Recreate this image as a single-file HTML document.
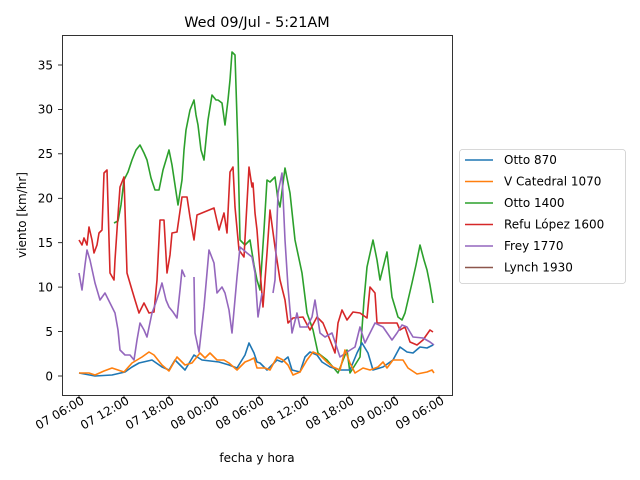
<!DOCTYPE html>
<html><head><meta charset="utf-8"><style>body{margin:0;background:#fff}svg{display:block}text{font-family:"DejaVu Sans","Liberation Sans",sans-serif;fill:#000}</style></head><body>
<svg width="640" height="480" viewBox="0 0 640 480" xmlns="http://www.w3.org/2000/svg">
<rect width="640" height="480" fill="#fff"/>
<text x="257" y="27" font-size="14.4" text-anchor="middle">Wed 09/Jul - 5:21AM</text>
<g fill="none" stroke-width="1.6" stroke-linejoin="round">
<polyline stroke="#2ca02c" points="114,223 118,221 121,205 124,180 128,172 132,160 136,150 140,145 144,153 147,160 151,178 155,190 159,190 163,170 166,160 169,150 172,165 175,185 178,205 182,180 184,150 186,130 190,110 194,100 196,115 198,125 201,150 204,160 206,140 208,120 212,95 216,100 218,100 222,103 225,125 228,100 230,80 232,52 235,55 238,150 240,240 245,245 250,240 254,265 257,280 260,290 264,230 267,180 270,182 275,177 278,200 280,207 285,168 290,193 295,240 302,273 307,313 313,330 318,353 327,360 338,373 347,350 350,373 355,365 360,357 364,300 367,267 373,240 377,260 380,280 387,252 392,297 398,317 402,320 405,313 412,283 416,265 420,245 424,260 427,270 430,285 433,303"/>
<polyline stroke="#d62728" points="79,240 82,245 84,238 87,245 89,227 92,240 94,253 97,245 99,233 102,230 104,173 107,170 110,273 114,280 115,260 118,215 120,187 124,177 127,273 132,290 135,300 139,313 144,303 149,313 154,312 157,280 160,220 164,220 167,273 170,255 172,233 177,232 182,197 187,197 190,217 194,240 197,215 214,208 219,230 224,213 227,233 230,172 233,167 235,207 239,250 244,257 249,167 252,187 253,183 255,213 257,230 260,270 263,307 267,253 270,210 275,247 280,280 285,300 288,323 293,318 303,317 310,330 317,317 323,323 330,340 335,353 338,323 342,310 347,320 353,312 360,313 367,318 370,287 375,293 377,323 397,323 400,330 405,327 410,342 417,345 423,340 430,330 433,332"/>
<polyline stroke="#9467bd" points="79,273 82,290 85,265 87,250 90,260 95,283 100,300 105,293 110,303 115,313 118,330 120,350 125,355 130,355 134,360 137,340 140,323 144,330 147,337 152,313 155,305 159,293 162,283 166,300 169,307 173,312 177,318 180,290 182,270 185,277"/>
<polyline stroke="#9467bd" points="194,277 195,333 199,352 204,307 209,250 214,263 217,293 222,287 225,293 229,310 232,333 237,277 240,247 247,253 252,257 255,273 258,317 262,293"/>
<polyline stroke="#9467bd" points="273,293 275,280 278,193 282,173 285,240 288,287 292,333 297,313 300,327 307,327 312,317 315,300 320,333 325,337 332,333 340,357 347,352 355,347 360,327 365,343 370,333 375,323 383,327 392,340 397,333 402,325 407,327 413,337 423,338 430,342 434,345"/>
<polyline stroke="#1f77b4" points="79,373 95,376 112,375 125,372 132,367 139,363 152,360 162,367 169,370 175,360 180,365 185,370 194,355 202,360 219,362 229,365 237,368 245,355 249,343 254,353 257,362 260,363 267,370 277,360 282,362 288,357 292,370 300,372 305,357 310,352 317,355 322,362 330,367 340,370 350,370 357,353 362,343 368,353 373,370 383,367 393,360 400,347 407,352 413,353 420,347 427,348 433,345"/>
<polyline stroke="#ff7f0e" points="79,373 89,373 95,375 104,371 112,368 118,370 124,372 132,363 142,357 149,352 154,355 162,365 169,371 177,357 185,365 192,363 200,353 205,358 210,353 217,360 224,360 229,363 237,370 245,362 250,360 254,358 257,368 265,368 270,370 277,357 283,360 288,365 293,375 300,372 307,360 313,352 320,355 327,362 333,367 340,370 345,350 350,363 355,373 363,368 370,370 378,367 383,362 387,368 393,360 403,360 408,368 417,374 427,372 432,370 434,373"/>
</g>
<rect x="62.5" y="35.5" width="390" height="360" fill="none" stroke="#000" stroke-width="0.8"/>
<g stroke="#000" stroke-width="0.8">
<line x1="62" y1="376" x2="58" y2="376"/><line x1="62" y1="331.6" x2="58" y2="331.6"/><line x1="62" y1="287.1" x2="58" y2="287.1"/><line x1="62" y1="242.7" x2="58" y2="242.7"/><line x1="62" y1="198.3" x2="58" y2="198.3"/><line x1="62" y1="153.8" x2="58" y2="153.8"/><line x1="62" y1="109.4" x2="58" y2="109.4"/><line x1="62" y1="65" x2="58" y2="65"/>
<line x1="79" y1="395" x2="79" y2="399"/><line x1="124" y1="395" x2="124" y2="399"/><line x1="169" y1="395" x2="169" y2="399"/><line x1="214" y1="395" x2="214" y2="399"/><line x1="259" y1="395" x2="259" y2="399"/><line x1="304" y1="395" x2="304" y2="399"/><line x1="349" y1="395" x2="349" y2="399"/><line x1="394" y1="395" x2="394" y2="399"/><line x1="439" y1="395" x2="439" y2="399"/>
</g>
<g font-size="12" text-anchor="end">
<text x="53" y="380.5">0</text><text x="53" y="336">5</text><text x="53" y="291.5">10</text><text x="53" y="247">15</text><text x="53" y="202.5">20</text><text x="53" y="158">25</text><text x="53" y="113.5">30</text><text x="53" y="69.5">35</text>
</g>
<g font-size="12" text-anchor="end">
<text transform="translate(85,403) rotate(-30)">07 06:00</text>
<text transform="translate(130,403) rotate(-30)">07 12:00</text>
<text transform="translate(175,403) rotate(-30)">07 18:00</text>
<text transform="translate(220,403) rotate(-30)">08 00:00</text>
<text transform="translate(265,403) rotate(-30)">08 06:00</text>
<text transform="translate(310,403) rotate(-30)">08 12:00</text>
<text transform="translate(355,403) rotate(-30)">08 18:00</text>
<text transform="translate(400,403) rotate(-30)">09 00:00</text>
<text transform="translate(445,403) rotate(-30)">09 06:00</text>
</g>
<text x="257" y="462" font-size="12" text-anchor="middle">fecha y hora</text>
<text transform="translate(26,215) rotate(-90)" font-size="12" text-anchor="middle">viento [km/hr]</text>
<rect x="459.5" y="149.5" width="166" height="134" rx="3" fill="#fff" stroke="#ccc" stroke-width="0.8"/>
<g stroke-width="1.6">
<line x1="465" y1="160" x2="493" y2="160" stroke="#1f77b4"/>
<line x1="465" y1="181.5" x2="493" y2="181.5" stroke="#ff7f0e"/>
<line x1="465" y1="203" x2="493" y2="203" stroke="#2ca02c"/>
<line x1="465" y1="224.5" x2="493" y2="224.5" stroke="#d62728"/>
<line x1="465" y1="246" x2="493" y2="246" stroke="#9467bd"/>
<line x1="465" y1="267.5" x2="493" y2="267.5" stroke="#8c564b"/>
</g>
<g font-size="12">
<text x="504" y="164">Otto 870</text>
<text x="504" y="185.5">V Catedral 1070</text>
<text x="504" y="207">Otto 1400</text>
<text x="504" y="228.5">Refu López 1600</text>
<text x="504" y="250">Frey 1770</text>
<text x="504" y="271.5">Lynch 1930</text>
</g>
</svg>
</body></html>
